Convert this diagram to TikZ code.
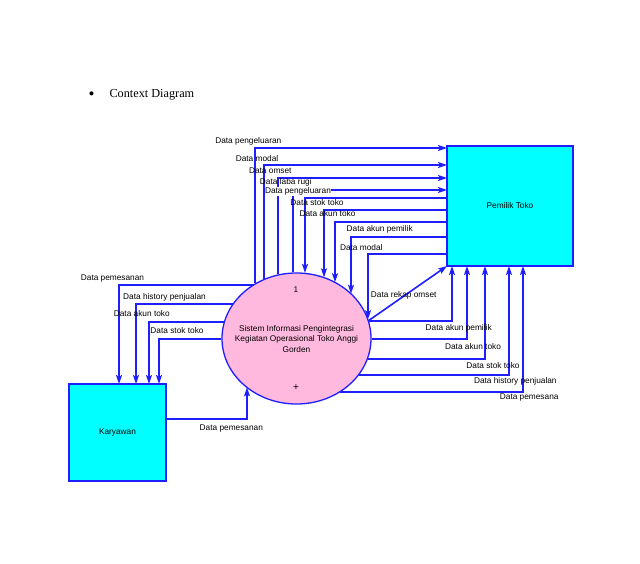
\documentclass[tikz,border=0pt]{standalone}
\usepackage{fontspec}
\newfontfamily\arialf{Liberation Sans}
\newfontfamily\timesf{Liberation Serif}
\usetikzlibrary{shapes.geometric,arrows.meta}
\definecolor{lineblue}{RGB}{30,30,255}
\definecolor{boxcyan}{RGB}{0,255,255}
\definecolor{procpink}{RGB}{255,184,222}
\begin{document}
\begin{tikzpicture}[x=1pt,y=-1pt,
  flow/.style={draw=lineblue, line width=1.6pt, -{Stealth[length=9pt,width=6pt,inset=2pt]}},
  lbl/.style={font=\arialf\fontsize{8.3}{10.5}\selectfont, inner sep=0.5pt},
  entity/.style={draw=lineblue, fill=boxcyan, line width=1.6pt, font=\arialf\fontsize{8.3}{10.5}\selectfont, inner sep=0pt, outer sep=0pt},
  process/.style={ellipse, draw=lineblue, fill=procpink, line width=1.3pt, inner sep=0pt}
]
\useasboundingbox[fill=white] (0,0) rectangle (640,564);

% title
\node[font=\timesf\fontsize{17}{18}\selectfont, anchor=base] (bul) at (91.7,99.5) {•};
\node[font=\timesf\fontsize{12.25}{14}\selectfont, anchor=base west, inner sep=0pt] (title) at (109.3,97.7) {Context Diagram};

% entities and process
\node[entity, minimum width=126pt, minimum height=120pt] (pem) at (510,206) {Pemilik Toko};
\node[entity, minimum width=97pt, minimum height=97pt] (kar) at (117.5,432.5) {Karyawan};
\node[process, minimum width=149pt, minimum height=131pt] (e) at (296.5,338.5) {};
\node[lbl, align=center] (etxt) at (296.5,339) {Sistem Informasi Pengintegrasi\\Kegiatan Operasional Toko Anggi\\Gorden};
\node[lbl] (enum) at (296,289.5) {1};
\node[lbl, font=\arialf\fontsize{10}{12}\selectfont] (eplus) at (296,388) {+};

% process -> Pemilik Toko (top)
\draw[flow] (e.127.3 -| 255,0) |- (pem.west |- 0,148);
\draw[flow] (e.118.9 -| 264,0) |- (pem.west |- 0,165);
\draw[flow] (e.106.7 -| 278,0) |- (pem.west |- 0,178);
\draw[flow] (e.93.1 -| 293,0) |- (pem.west |- 0,190);
% Pemilik Toko -> process
\draw[flow] (pem.west |- 0,198) -| (e.82.6 -| 305,0);
\draw[flow] (pem.west |- 0,210) -| (e.65.7 -| 324,0);
\draw[flow] (pem.west |- 0,222) -| (e.55.5 -| 335,0);
\draw[flow] (pem.west |- 0,237) -| (e.39.4 -| 351,0);
\draw[flow] (pem.west |- 0,254) -| (e.15.2 -| 368,0);
% process -> Pemilik Toko (right)
\draw[flow] (e.14) -- (pem.south west);
\draw[flow] (e.13.7 |- 0,321) -| (pem.south -| 452,0);
\draw[flow] (e.359.4 |- 0,339) -| (pem.south -| 467,0);
\draw[flow] (e.344.1 |- 0,359) -| (pem.south -| 485,0);
\draw[flow] (e.329.5 |- 0,375) -| (pem.south -| 509,0);
\draw[flow] (e.309.2 |- 0,392) -| (pem.south -| 523,0);
% process -> Karyawan
\draw[flow] (e.128.8 |- 0,285) -| (kar.north -| 119,0);
\draw[flow] (e.151.7 |- 0,304) -| (kar.north -| 136,0);
\draw[flow] (e.166.7 |- 0,322) -| (kar.north -| 149,0);
\draw[flow] (e.180.6 |- 0,339) -| (kar.north -| 159,0);
% Karyawan -> process
\draw[flow] (kar.east |- 0,419) -| (e.224.4 -| 247,0);

% labels top
\node[lbl] (t1) at (248.3,141.7) {Data pengeluaran};
\node[lbl] (t2) at (257,159) {Data modal};
\node[lbl] (t3) at (270.3,170.3) {Data omset};
\node[lbl] (t4) at (285.8,182.3) {Data laba rugi};
\node[lbl, fill=white] (t5) at (298,191.7) {Data pengeluaran};
\node[lbl] (t6) at (317,202.7) {Data stok toko};
\node[lbl] (t7) at (327.5,214) {Data akun toko};
\node[lbl] (t8) at (379.7,229) {Data akun pemilik};
\node[lbl] (t9) at (361.3,247.3) {Data modal};
% labels right
\node[lbl] (r0) at (403.7,295) {Data rekap omset};
\node[lbl] (r1) at (458.7,328.3) {Data akun pemilik};
\node[lbl] (r2) at (473,346.7) {Data akun toko};
\node[lbl] (r3) at (493,365.3) {Data stok toko};
\node[lbl] (r4) at (515.3,381) {Data history penjualan};
\node[lbl] (r5) at (529.2,397.7) {Data pemesana};
% labels left
\node[lbl] (k1) at (112.5,278.3) {Data pemesanan};
\node[lbl] (k2) at (164.5,297) {Data history penjualan};
\node[lbl] (k3) at (141.8,314) {Data akun toko};
\node[lbl] (k4) at (177,331) {Data stok toko};
\node[lbl] (k5) at (231.3,428.3) {Data pemesanan};
\end{tikzpicture}
\end{document}
